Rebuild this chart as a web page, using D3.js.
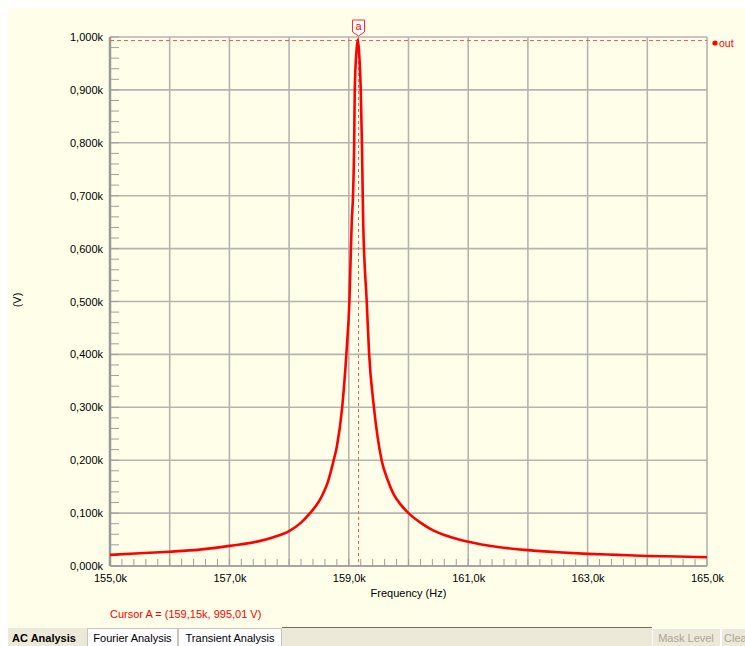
<!DOCTYPE html>
<html>
<head>
<meta charset="utf-8">
<script src="https://cdn.jsdelivr.net/npm/d3@7"></script>
<style>
  body { margin: 0; background: #fff; }
  text { font-family: "Liberation Sans", Arial, sans-serif; }
</style>
</head>
<body>
<div id="chart"></div>
<script>
// frequency in kHz, output in kV
var freqs = [155.0, 155.5, 156.0, 156.5, 157.0, 157.5, 157.75, 158.0, 158.2, 158.35,
             158.5, 158.57, 158.65, 158.74, 158.80, 158.89, 158.96, 159.01, 159.05, 159.07,
             159.09, 159.10, 159.13, 159.15, 159.17, 159.20, 159.22, 159.24, 159.30, 159.34,
             159.42, 159.55, 159.65, 159.75, 159.87, 160.0, 160.2, 160.42, 160.7, 161.0,
             161.5, 162.0, 162.5, 163.0, 163.5, 164.0, 164.5, 165.0];
var outV  = [0.021, 0.024, 0.027, 0.031, 0.038, 0.047, 0.055, 0.066, 0.082, 0.100,
             0.122, 0.137, 0.159, 0.197, 0.226, 0.301, 0.402, 0.500, 0.654, 0.698,
             0.799, 0.900, 0.975, 0.995, 0.975, 0.900, 0.799, 0.654, 0.500, 0.402,
             0.301, 0.200, 0.163, 0.136, 0.116, 0.100, 0.082, 0.067, 0.055, 0.046,
             0.036, 0.030, 0.026, 0.023, 0.021, 0.019, 0.018, 0.0165];
var xTicks = [155, 157, 159, 161, 163, 165];
var yTicks = [0, 0.1, 0.2, 0.3, 0.4, 0.5, 0.6, 0.7, 0.8, 0.9, 1.0];
var cursorA = {f: 159.15, v: 0.99501, label: "Cursor A = (159,15k, 995,01 V)"};
var tabs = ["AC Analysis", "Fourier Analysis", "Transient Analysis"];

var W = 745, H = 646;
var margin = {top: 37, right: 38, bottom: 80, left: 110},
    width = W - margin.left - margin.right,
    height = H - margin.top - margin.bottom;

var svg = d3.select("#chart").append("svg").attr("width", W).attr("height", H);

// grapher panel
svg.append("rect").attr("x", 8).attr("y", 8).attr("width", W - 8).attr("height", 620)
    .attr("fill", "#fefee9");

var g = svg.append("g").attr("transform", "translate(" + margin.left + "," + margin.top + ")");

var x = d3.scaleLinear().domain([155, 165]).range([0, width]);
var y = d3.scaleLinear().domain([0, 1]).range([height, 0]);

var comma = function(fmt){ return function(d){ return d3.format(fmt)(d).replace(".", ",") + "k"; }; };

// grid
g.append("g").selectAll("line").data(d3.range(155, 165.5, 1)).enter().append("line")
    .attr("x1", function(d){ return x(d); }).attr("x2", function(d){ return x(d); })
    .attr("y1", 0).attr("y2", height)
    .attr("stroke", "#b4b4b0").attr("stroke-width", 1.6);
g.append("g").selectAll("line").data(yTicks).enter().append("line")
    .attr("y1", function(d){ return y(d); }).attr("y2", function(d){ return y(d); })
    .attr("x1", 0).attr("x2", width)
    .attr("stroke", "#b4b4b0").attr("stroke-width", 1.6);

// minor ticks
g.append("g").selectAll("line").data(d3.range(0, 1.001, 0.02)).enter().append("line")
    .attr("y1", function(d){ return y(d); }).attr("y2", function(d){ return y(d); })
    .attr("x1", 0).attr("x2", 9)
    .attr("stroke", "#a0a0a0").attr("stroke-width", 1);
g.append("g").selectAll("line").data(d3.range(155, 165.01, 0.2)).enter().append("line")
    .attr("x1", function(d){ return x(d); }).attr("x2", function(d){ return x(d); })
    .attr("y1", height).attr("y2", height - 7)
    .attr("stroke", "#a0a0a0").attr("stroke-width", 1);

// axis lines
g.append("line").attr("x1", 0).attr("x2", 0).attr("y1", 0).attr("y2", height)
    .attr("stroke", "#9a9a9a").attr("stroke-width", 2.5);
g.append("line").attr("x1", 0).attr("x2", width).attr("y1", height).attr("y2", height)
    .attr("stroke", "#9a9a9a").attr("stroke-width", 1.5);

// axes labels
var yAxis = d3.axisLeft(y).tickValues(yTicks).tickFormat(comma(".3f")).tickSize(0).tickPadding(7);
var xAxis = d3.axisBottom(x).tickValues(xTicks).tickFormat(comma(".1f")).tickSize(0).tickPadding(8);
g.append("g").call(yAxis).call(function(s){ s.select(".domain").remove(); })
    .selectAll("text").attr("font-size", 11).attr("fill", "#000")
    .attr("font-family", "Liberation Sans, Arial, sans-serif");
g.append("g").attr("transform", "translate(0," + height + ")").call(xAxis)
    .call(function(s){ s.select(".domain").remove(); })
    .selectAll("text").attr("font-size", 11).attr("fill", "#000")
    .attr("font-family", "Liberation Sans, Arial, sans-serif");

svg.append("text").attr("transform", "translate(21,300) rotate(-90)")
    .attr("text-anchor", "middle").attr("font-size", 11).text("(V)");
svg.append("text").attr("x", margin.left + width / 2).attr("y", 597)
    .attr("text-anchor", "middle").attr("font-size", 11).text("Frequency (Hz)");

// cursor A
var cx = Math.round(x(cursorA.f)) + 0.5, cy = Math.round(y(cursorA.v)) + 0.5;
g.append("line").attr("x1", cx).attr("x2", cx).attr("y1", 0).attr("y2", height)
    .attr("stroke", "#ff5a5a").attr("stroke-width", 1).attr("stroke-dasharray", "3,3");
g.append("line").attr("x1", 0).attr("x2", width).attr("y1", cy).attr("y2", cy)
    .attr("stroke", "#ff5a5a").attr("stroke-width", 1).attr("stroke-dasharray", "4,3");

// curve
var line = d3.line().x(function(d){ return x(d[0]); }).y(function(d){ return y(d[1]); })
    .curve(d3.curveMonotoneX);
g.append("path").datum(d3.zip(freqs, outV))
    .attr("d", line).attr("fill", "none").attr("stroke", "#ff0000")
    .attr("stroke-width", 2.6).attr("stroke-linejoin", "round");

g.append("path")
    .attr("d", "M" + (cx - 6) + ",-17 H" + (cx + 6) + " V-5 L" + cx + ",-1 L" + (cx - 6) + ",-5 Z")
    .attr("fill", "#fff").attr("stroke", "#ff3030").attr("stroke-width", 1);
g.append("text").attr("x", cx).attr("y", -7).attr("text-anchor", "middle")
    .attr("font-size", 11).attr("fill", "#ff0000").text("a");

// legend
svg.append("circle").attr("cx", 715).attr("cy", 43).attr("r", 2.6).attr("fill", "#ff0000");
svg.append("text").attr("x", 719).attr("y", 47).attr("font-size", 10.5).attr("fill", "#ff0000").text("out");

svg.append("text").attr("x", 110).attr("y", 618).attr("font-size", 11).attr("fill", "#ff0000")
    .text(cursorA.label);

// tab strip
svg.append("rect").attr("x", 8).attr("y", 628).attr("width", W - 8).attr("height", 18).attr("fill", "#ece9d8");
svg.append("line").attr("x1", 282).attr("x2", 652).attr("y1", 627.5).attr("y2", 627.5)
    .attr("stroke", "#716f64").attr("stroke-width", 1);
var tabX = [8, 87, 178, 282];
tabs.forEach(function(t, i){
  if (i > 0) {
    svg.append("rect").attr("x", tabX[i] + 0.5).attr("y", 628.5).attr("width", tabX[i + 1] - tabX[i] - 1)
        .attr("height", 18).attr("fill", "#fcfcfe").attr("stroke", "#c8c6bc");
  }
  svg.append("text").attr("x", i == 0 ? 44 : (tabX[i] + tabX[i + 1]) / 2).attr("y", 642)
      .attr("text-anchor", "middle").attr("font-size", 11)
      .attr("font-weight", i == 0 ? "bold" : "normal").attr("fill", "#000").text(t);
});
svg.append("rect").attr("x", 652.5).attr("y", 628.5).attr("width", 68).attr("height", 18)
    .attr("fill", "#ece9d8").attr("stroke", "#fff");
svg.append("text").attr("x", 686).attr("y", 642).attr("text-anchor", "middle")
    .attr("font-size", 11).attr("fill", "#a7a69c").text("Mask Level");
svg.append("rect").attr("x", 721.5).attr("y", 628.5).attr("width", 30).attr("height", 18)
    .attr("fill", "#ece9d8").attr("stroke", "#fff");
svg.append("text").attr("x", 724).attr("y", 642).attr("font-size", 11).attr("fill", "#a7a69c").text("Clear");
</script>
</body>
</html>
